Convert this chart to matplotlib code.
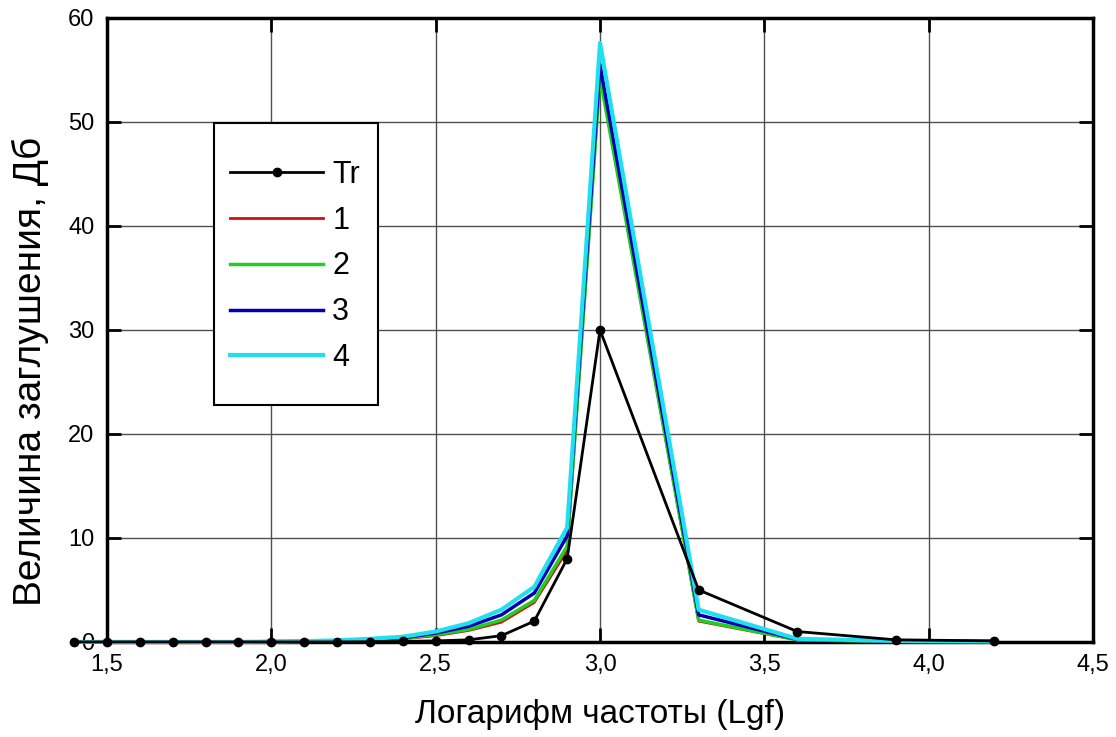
import matplotlib
matplotlib.use('Agg')
import matplotlib.pyplot as plt
from matplotlib.patches import Rectangle
from matplotlib.ticker import FuncFormatter, MultipleLocator

plt.rcParams['font.family'] = ['Liberation Sans', 'DejaVu Sans']

# log frequency points
lgf = [1.4, 1.5, 1.6, 1.7, 1.8, 1.9, 2.0, 2.1, 2.2, 2.3, 2.4, 2.5, 2.6, 2.7, 2.8, 2.9,
       3.0, 3.3, 3.6, 3.9, 4.2]

tr = [0.0, 0.0, 0.0, 0.0, 0.0, 0.0, 0.0, 0.0, 0.0, 0.02, 0.05, 0.1, 0.2, 0.6, 2.0, 8.0,
      30.0, 5.0, 1.0, 0.2, 0.1]
s1 = [0.0, 0.0, 0.0, 0.0, 0.0, 0.0, 0.02, 0.05, 0.1, 0.2, 0.3, 0.6, 1.1, 1.9, 3.8, 8.8,
      54.5, 2.0, 0.2, 0.05, 0.02]
s2 = [0.0, 0.0, 0.0, 0.0, 0.0, 0.0, 0.02, 0.05, 0.1, 0.2, 0.35, 0.7, 1.2, 2.1, 4.0, 9.2,
      54.3, 2.1, 0.2, 0.05, 0.02]
s3 = [0.0, 0.0, 0.0, 0.0, 0.0, 0.0, 0.03, 0.06, 0.12, 0.25, 0.4, 0.85, 1.5, 2.6, 4.7, 10.2,
      55.5, 2.6, 0.25, 0.08, 0.03]
s4 = [0.0, 0.0, 0.0, 0.0, 0.0, 0.0, 0.03, 0.07, 0.15, 0.3, 0.5, 1.0, 1.8, 3.1, 5.3, 11.0,
      57.6, 3.1, 0.3, 0.1, 0.05]

labels = ['Tr', '1', '2', '3', '4']

fig = plt.figure(figsize=(11.16, 7.37), dpi=100)
ax = fig.add_axes([0.0959, 0.129, 0.8835, 0.8466])

ax.plot(lgf, s1, color='#d01010', lw=2, label=labels[1], zorder=3, clip_on=False)
ax.plot(lgf, s2, color='#20d020', lw=2.5, label=labels[2], zorder=3, clip_on=False)
ax.plot(lgf, s3, color='#0000b0', lw=2.5, label=labels[3], zorder=3, clip_on=False)
ax.plot(lgf, s4, color='#20e0f0', lw=3, label=labels[4], zorder=3, clip_on=False)
ax.plot(lgf, tr, color='black', lw=2, marker='o', ms=6, label=labels[0], zorder=4,
        clip_on=False)

ax.set_xlim(1.5, 4.5)
ax.set_ylim(0, 60)
ax.xaxis.set_major_locator(MultipleLocator(0.5))
ax.yaxis.set_major_locator(MultipleLocator(10))
ax.xaxis.set_major_formatter(FuncFormatter(lambda v, p: f'{v:.1f}'.replace('.', ',')))
ax.yaxis.set_major_formatter(FuncFormatter(lambda v, p: f'{v:.0f}'))

ax.grid(True, color='#505050', lw=1)
ax.tick_params(direction='in', length=10, width=2, labelsize=17,
               top=True, right=True, pad=9)
for s in ax.spines.values():
    s.set_linewidth(2.5)

ax.set_xlabel('Логарифм частоты (Lgf)', fontsize=24, labelpad=16)
ax.set_ylabel('Величина заглушения, Дб', fontsize=28)
ax.yaxis.set_label_coords(-0.059, 0.434)

# legend in the order Tr, 1..4, with its own frame
h, l = ax.get_legend_handles_labels()
order = [4, 0, 1, 2, 3]
leg = ax.legend([h[i] for i in order], [l[i] for i in order],
                loc='upper left', bbox_to_anchor=(0.1247, 0.773), fontsize=22,
                frameon=False, handlelength=3.05, labelspacing=0.52, borderpad=0,
                handletextpad=0.3, borderaxespad=0)
leg.set_zorder(6)
ax.add_patch(Rectangle((0.1085, 0.3798), 0.1663, 0.4519, transform=ax.transAxes,
                       facecolor='white', edgecolor='black', lw=1.5, zorder=5))

fig.savefig('out.png', dpi=100)
